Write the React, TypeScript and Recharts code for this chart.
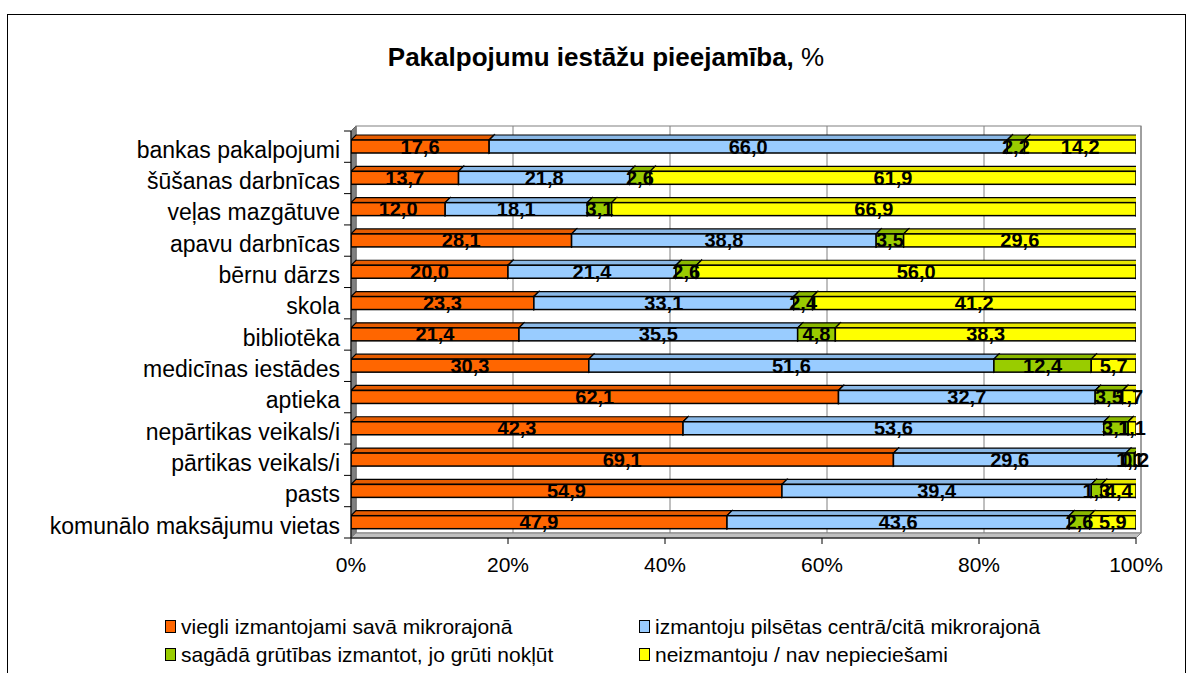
import { BarChart, Bar, XAxis, YAxis, CartesianGrid, LabelList } from 'recharts'

const categories = [
  'bankas pakalpojumi',
  'šūšanas darbnīcas',
  'veļas mazgātuve',
  'apavu darbnīcas',
  'bērnu dārzs',
  'skola',
  'bibliotēka',
  'medicīnas iestādes',
  'aptieka',
  'nepārtikas veikals/i',
  'pārtikas veikals/i',
  'pasts',
  'komunālo maksājumu vietas',
]
const viegli = [17.6, 13.7, 12.0, 28.1, 20.0, 23.3, 21.4, 30.3, 62.1, 42.3, 69.1, 54.9, 47.9]
const centrs = [66.0, 21.8, 18.1, 38.8, 21.4, 33.1, 35.5, 51.6, 32.7, 53.6, 29.6, 39.4, 43.6]
const gruti = [2.2, 2.6, 3.1, 3.5, 2.6, 2.4, 4.8, 12.4, 3.5, 3.1, 1.1, 1.3, 2.6]
const neizm = [14.2, 61.9, 66.9, 29.6, 56.0, 41.2, 38.3, 5.7, 1.7, 1.1, 0.2, 4.4, 5.9]
const xTicks = [0, 20, 40, 60, 80, 100]

const series = [
  { key: 'viegli', name: 'viegli izmantojami savā mikrorajonā', fill: '#FF6600', top: '#E65C00' },
  { key: 'centrs', name: 'izmantoju pilsētas centrā/citā mikrorajonā', fill: '#99CCFF', top: '#8AB8E6' },
  { key: 'gruti', name: 'sagādā grūtības izmantot, jo grūti nokļūt', fill: '#99CC00', top: '#8AB800' },
  { key: 'neizm', name: 'neizmantoju / nav nepieciešami', fill: '#FFFF00', top: '#E6E600' },
]

const data = categories.map((name, i) => ({
  name,
  viegli: viegli[i],
  centrs: centrs[i],
  gruti: gruti[i],
  neizm: neizm[i],
}))

const FONT = 'Arial, "Liberation Sans", sans-serif'
const DEPTH = 5
const W = 1193
const H = 673
// plot area (front plane)
const P_LEFT = 351
const P_RIGHT = 1136
const P_TOP = 131
const P_BOTTOM = 538
const ROW_H = (P_BOTTOM - P_TOP) / categories.length

function Bar3D(props: any) {
  const { x, y, width, height, fill, top } = props
  if (!width || width <= 0) return null
  const d = DEPTH
  const topFace = `M${x},${y} L${x + d},${y - d} L${x + width + d},${y - d} L${x + width},${y} Z`
  const side = `M${x + width},${y} L${x + width + d},${y - d} L${x + width + d},${y + height - d} L${x + width},${y + height} Z`
  return (
    <g>
      <path d={topFace} fill={top} stroke="#000" strokeWidth={1.2} />
      <path d={side} fill={top} stroke="#000" strokeWidth={1.2} />
      <rect x={x} y={y} width={width} height={height} fill={fill} stroke="#000" strokeWidth={1.5} />
    </g>
  )
}

function ValueLabel(props: any) {
  const { x, y, width, height, value } = props
  return (
    <text
      x={x + width / 2}
      y={y + height / 2}
      textAnchor="middle"
      dominantBaseline="central"
      fontFamily={FONT}
      fontWeight="bold"
      fontSize={20}
      fill="#000"
    >
      {Number(value).toFixed(1).replace('.', ',')}
    </text>
  )
}

export default function App() {
  return (
    <div style={{ position: 'absolute', left: 0, top: 0, width: W, height: H, background: '#fff', fontFamily: FONT }}>
      <svg width={W} height={H} style={{ position: 'absolute', left: 0, top: 0 }}>
        <rect x={7.5} y={14.5} width={1178} height={700} fill="none" stroke="#000" strokeWidth={1} />
        <text x={606} y={66} textAnchor="middle" fontFamily={FONT} fontSize={26} fill="#000">
          <tspan fontWeight="bold">Pakalpojumu iestāžu pieejamība,</tspan>
          <tspan> %</tspan>
        </text>
        {/* back wall outline, left wall and floor */}
        <rect x={P_LEFT + DEPTH} y={P_TOP - DEPTH} width={P_RIGHT - P_LEFT} height={P_BOTTOM - P_TOP} fill="#fff" stroke="#808080" />
        <path
          d={`M${P_LEFT},${P_TOP} L${P_LEFT + DEPTH},${P_TOP - DEPTH} L${P_LEFT + DEPTH},${P_BOTTOM - DEPTH} L${P_LEFT},${P_BOTTOM} Z`}
          fill="#808080"
          stroke="#606060"
        />
        <path
          d={`M${P_LEFT},${P_BOTTOM} L${P_LEFT + DEPTH},${P_BOTTOM - DEPTH} L${P_RIGHT + DEPTH},${P_BOTTOM - DEPTH} L${P_RIGHT},${P_BOTTOM} Z`}
          fill="#c0c0c0"
          stroke="#808080"
        />
        {/* category separators on the value axis */}
        {Array.from({ length: categories.length + 1 }, (_, i) => (
          <line
            key={i}
            x1={P_LEFT - 7}
            x2={P_LEFT}
            y1={P_TOP + i * ROW_H}
            y2={P_TOP + i * ROW_H}
            stroke="#000"
          />
        ))}
      </svg>
      <div style={{ position: 'absolute', left: 0, top: 0 }}>
        <BarChart
          layout="vertical"
          width={W}
          height={H}
          data={data}
          barSize={13}
          margin={{ top: P_TOP, right: W - P_RIGHT, bottom: H - P_BOTTOM - 30, left: 0 }}
        >
          <CartesianGrid
            horizontal={false}
            stroke="#808080"
            y={P_TOP - DEPTH}
            height={P_BOTTOM - P_TOP}
            verticalCoordinatesGenerator={({ offset }: any) =>
              xTicks.map((t) => offset.left + (t / 100) * offset.width + DEPTH)
            }
          />
          <XAxis
            type="number"
            domain={[0, 100]}
            ticks={xTicks}
            allowDataOverflow
            tickFormatter={(v) => `${v}%`}
            tick={{ fontSize: 21, fill: '#000', fontFamily: FONT }}
            axisLine={{ stroke: '#000' }}
            tickLine={{ stroke: '#000' }}
            tickSize={6}
            tickMargin={13}
            height={30}
          />
          <YAxis
            type="category"
            dataKey="name"
            width={P_LEFT}
            tick={{ fontSize: 23, fill: '#000', fontFamily: FONT, dy: 3 }}
            axisLine={{ stroke: '#000' }}
            tickLine={false}
            tickMargin={5}
            interval={0}
          />
          {series.map((s) => (
            <Bar
              key={s.key}
              dataKey={s.key}
              name={s.name}
              stackId="a"
              fill={s.fill}
              isAnimationActive={false}
              shape={(p: any) => <Bar3D {...p} fill={s.fill} top={s.top} />}
            >
              <LabelList dataKey={s.key} content={ValueLabel} />
            </Bar>
          ))}
        </BarChart>
      </div>
      <div
        style={{
          position: 'absolute',
          left: 165,
          top: 614,
          display: 'grid',
          gridTemplateColumns: '474px 420px',
          rowGap: 3,
          fontSize: 21,
          color: '#000',
        }}
      >
        {series.map((s) => (
          <div key={s.key} style={{ display: 'flex', alignItems: 'center', height: 25, whiteSpace: 'nowrap' }}>
            <span
              style={{
                display: 'inline-block',
                width: 9,
                height: 11,
                background: s.fill,
                border: '1px solid #000',
                marginRight: 5,
              }}
            />
            {s.name}
          </div>
        ))}
      </div>
    </div>
  )
}
